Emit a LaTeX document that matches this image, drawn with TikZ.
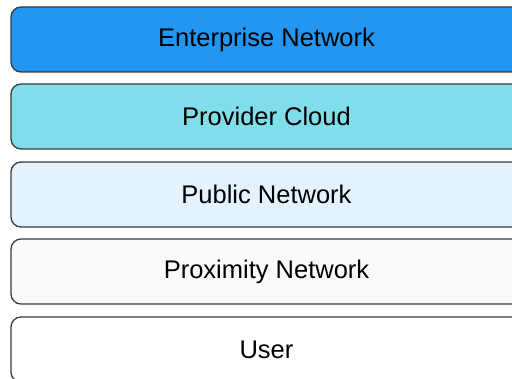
\documentclass[tikz,border=0pt]{standalone}
\usepackage{fontspec}
\setmainfont{Liberation Sans}
\definecolor{layerA}{HTML}{2196F3}
\definecolor{layerB}{HTML}{80DEEA}
\definecolor{layerC}{HTML}{E3F2FD}
\definecolor{layerD}{HTML}{FAFAFA}
\definecolor{layerE}{HTML}{FFFFFF}
\definecolor{edge}{HTML}{3A3A3A}
\begin{document}
\begin{tikzpicture}[x=1pt,y=1pt,
  layer/.style={draw=edge, line width=1.3pt, rounded corners=10pt,
    minimum width=511pt, minimum height=65pt, inner sep=0pt,
    font=\fontsize{25.5}{29}\selectfont, text=black}]
  \useasboundingbox (0,0) rectangle (512,378);
  \begin{scope}
    \clip (0,0) rectangle (512,378);
    \node[layer, fill=layerA] (ent)  at (266.5,338.5) {Enterprise Network};
    \node[layer, fill=layerB] (prov) at (266.5,261.5) {Provider Cloud};
    \node[layer, fill=layerC] (pub)  at (266.5,183.5) {Public Network};
    \node[layer, fill=layerD] (prox) at (266.5,106.5) {Proximity Network};
    \node[layer, fill=layerE] (user) at (266.5,28.5)  {User};
  \end{scope}
\end{tikzpicture}
\end{document}
